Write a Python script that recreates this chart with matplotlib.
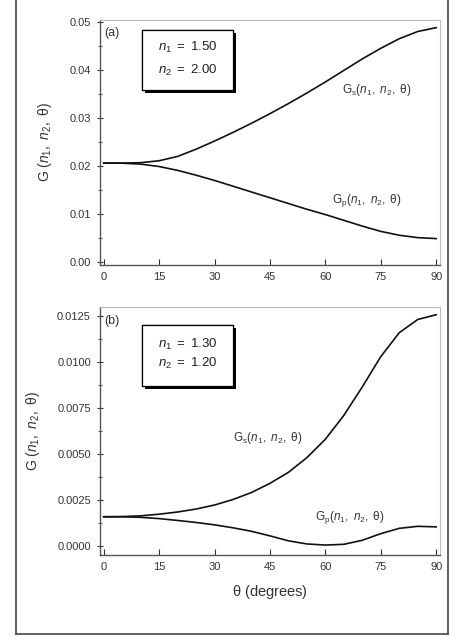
import matplotlib
matplotlib.use("Agg")
import matplotlib.pyplot as plt
import matplotlib.patheffects as pe
from matplotlib.lines import Line2D
from matplotlib.patches import Rectangle
from matplotlib.ticker import MultipleLocator

plt.rcParams["font.family"] = ["Liberation Sans", "DejaVu Sans"]
plt.rcParams["mathtext.fontset"] = "custom"
plt.rcParams["mathtext.rm"] = "Liberation Sans"
plt.rcParams["mathtext.it"] = "Liberation Sans:italic"

theta = [0, 5, 10, 15, 20, 25, 30, 35, 40, 45, 50, 55, 60, 65, 70, 75, 80, 85, 90]

# panel (a): n1 = 1.50, n2 = 2.00
gs_a = [0.0206, 0.0206, 0.0207, 0.0211, 0.0220, 0.0235, 0.0252, 0.0270, 0.0289,
        0.0309, 0.0330, 0.0352, 0.0375, 0.0399, 0.0423, 0.0445, 0.0465, 0.0480, 0.0488]
gp_a = [0.0206, 0.0206, 0.0204, 0.0199, 0.0191, 0.0181, 0.0170, 0.0158, 0.0146,
        0.0134, 0.0122, 0.0110, 0.0099, 0.0087, 0.0075, 0.0064, 0.0056, 0.0051, 0.0049]

# panel (b): n1 = 1.30, n2 = 1.20
gs_b = [0.00158, 0.00159, 0.00163, 0.00172, 0.00184, 0.00200, 0.00222, 0.00252, 0.00290,
        0.00340, 0.00400, 0.00480, 0.00580, 0.00710, 0.00865, 0.01030, 0.01160, 0.01232, 0.01258]
gp_b = [0.00158, 0.00158, 0.00155, 0.00148, 0.00138, 0.00127, 0.00114, 0.00098, 0.00079,
        0.00054, 0.00027, 0.00010, 0.00004, 0.00008, 0.00030, 0.00066, 0.00095, 0.00106, 0.00103]

yticks_a = [0.00, 0.01, 0.02, 0.03, 0.04, 0.05]
ytick_labels_a = ["0.00", "0.01", "0.02", "0.03", "0.04", "0.05"]
yticks_b = [0.0, 0.0025, 0.0050, 0.0075, 0.0100, 0.0125]
ytick_labels_b = ["0.0000", "0.0025", "0.0050", "0.0075", "0.0100", "0.0125"]
xticks = [0, 15, 30, 45, 60, 75, 90]

ylabel = r"$\mathregular{G\ (}n_{\mathregular{1}}\mathregular{,\ }n_{\mathregular{2}}\mathregular{,\ \theta)}$"
gs_label = r"$\mathregular{G_s(}n_{\mathregular{1}}\mathregular{,\ }n_{\mathregular{2}}\mathregular{,\ \theta)}$"
gp_label = r"$\mathregular{G_p(}n_{\mathregular{1}}\mathregular{,\ }n_{\mathregular{2}}\mathregular{,\ \theta)}$"
TXT = "#333333"


def style_axes(ax, yticks, ylabels, ylim, yminor, ylabel_x):
    ax.set_xlim(-1, 91)
    ax.set_ylim(*ylim)
    ax.set_xticks(xticks)
    ax.set_yticks(yticks)
    ax.set_yticklabels(ylabels)
    ax.yaxis.set_minor_locator(MultipleLocator(yminor))
    ax.tick_params(axis="x", which="both", direction="in", labelsize=8, color=TXT,
                   labelcolor=TXT, length=4, width=0.8, pad=5)
    ax.tick_params(axis="y", which="major", direction="inout", labelsize=8, color=TXT,
                   labelcolor=TXT, length=5, width=0.8, pad=4)
    ax.tick_params(axis="y", which="minor", direction="inout", length=2.5, width=0.6,
                   color=TXT)
    for side in ("top", "right"):
        ax.spines[side].set_color("#bbbbbb")
        ax.spines[side].set_linewidth(0.8)
    for side in ("left", "bottom"):
        ax.spines[side].set_color("#555555")
        ax.spines[side].set_linewidth(1.0)
    ax.set_ylabel(ylabel, fontsize=10, color=TXT)
    ax.yaxis.set_label_coords(ylabel_x, 0.5)


def param_box(ax, y0, lines):
    rect = Rectangle((0.1235, y0), 0.268, 0.245, transform=ax.transAxes,
                     facecolor="white", edgecolor="black", linewidth=0.9, zorder=4)
    rect.set_path_effects([pe.withSimplePatchShadow(offset=(2, -2), shadow_rgbFace="black",
                                                    alpha=1.0), pe.Normal()])
    ax.add_patch(rect)
    for ty, txt in lines:
        ax.text(0.259, ty, txt, transform=ax.transAxes, ha="center", va="center",
                fontsize=9.5, color="#222222", zorder=5)


fig = plt.figure(figsize=(4.55, 6.36), dpi=100)
ax_a = fig.add_axes([0.2198, 0.5833, 0.747, 0.3853])
ax_b = fig.add_axes([0.2198, 0.1274, 0.747, 0.3899])

# panel (a)
ax_a.plot(theta, gs_a, color="#111111", lw=1.2)
ax_a.plot(theta, gp_a, color="#111111", lw=1.2)
style_axes(ax_a, yticks_a, ytick_labels_a, (-0.0006, 0.0504), 0.005, -0.135)
ax_a.text(0.012, 0.945, "(a)", transform=ax_a.transAxes, fontsize=9, color=TXT,
          ha="left", va="center")
param_box(ax_a, 0.714, [(0.886, r"$n_{\mathregular{1}}\mathregular{\ =\ 1.50}$"),
                        (0.796, r"$n_{\mathregular{2}}\mathregular{\ =\ 2.00}$")])
ax_a.text(64.5, 0.0358, gs_label, fontsize=8.5, color=TXT, va="center")
ax_a.text(61.8, 0.0129, gp_label, fontsize=8.5, color=TXT, va="center")

# panel (b)
ax_b.plot(theta, gs_b, color="#111111", lw=1.2)
ax_b.plot(theta, gp_b, color="#111111", lw=1.2)
style_axes(ax_b, yticks_b, ytick_labels_b, (-0.0005, 0.0130), 0.00125, -0.17)
ax_b.text(0.012, 0.945, "(b)", transform=ax_b.transAxes, fontsize=9, color=TXT,
          ha="left", va="center")
param_box(ax_b, 0.681, [(0.847, r"$n_{\mathregular{1}}\mathregular{\ =\ 1.30}$"),
                        (0.774, r"$n_{\mathregular{2}}\mathregular{\ =\ 1.20}$")])
ax_b.text(35, 0.00587, gs_label, fontsize=8.5, color=TXT, va="center")
ax_b.text(57.2, 0.00152, gp_label, fontsize=8.5, color=TXT, va="center")
ax_b.set_xlabel(r"$\mathregular{\theta\ (degrees)}$", fontsize=10.5, color=TXT)
ax_b.xaxis.set_label_coords(0.5, -0.115)

# page frame around the figure
frame_kw = dict(color="#444444", linewidth=1.2, transform=fig.transFigure)
fig.add_artist(Line2D([16 / 455, 16 / 455], [0.003, 1.0], **frame_kw))
fig.add_artist(Line2D([448 / 455, 448 / 455], [0.003, 1.0], **frame_kw))
fig.add_artist(Line2D([16 / 455, 448 / 455], [0.003, 0.003], **frame_kw))

fig.savefig("out.png", dpi=100)
